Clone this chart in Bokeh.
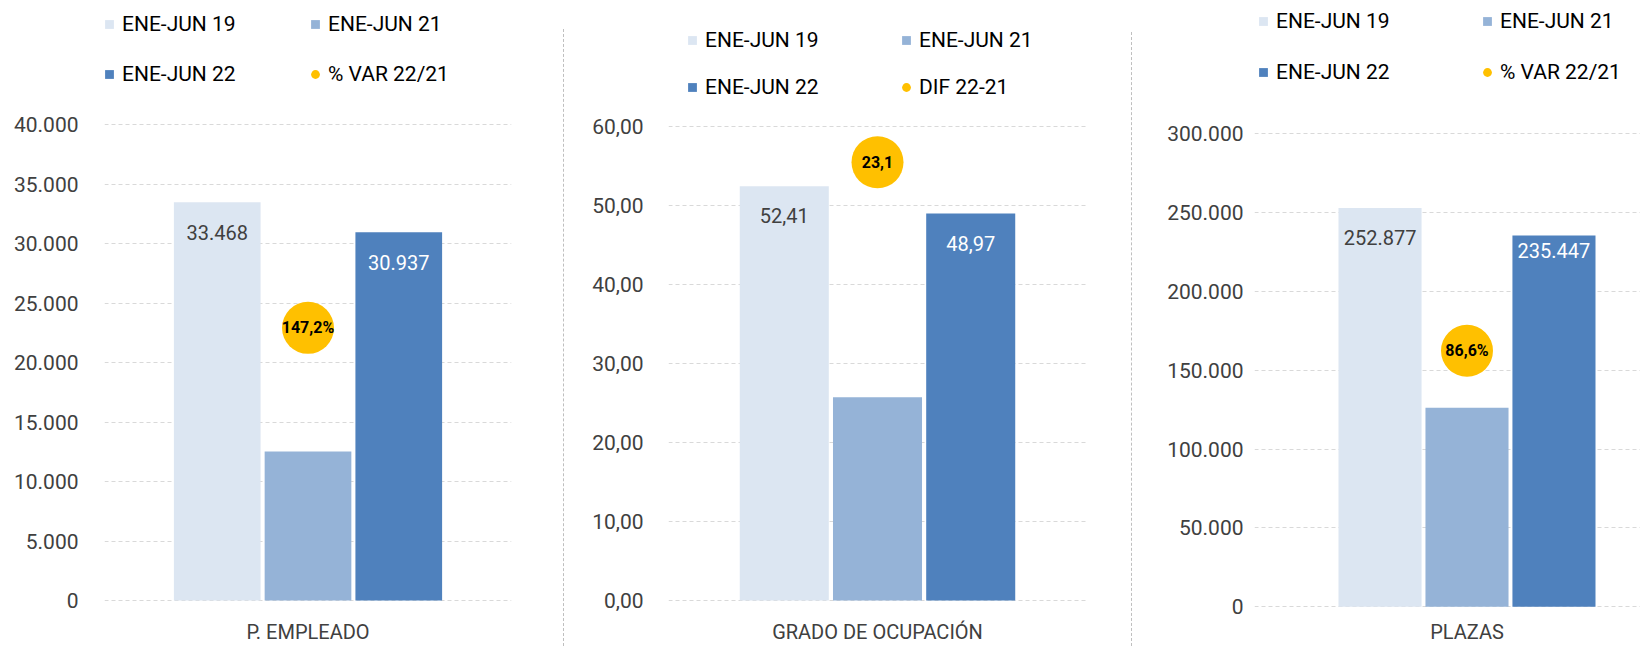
from bokeh.plotting import figure
from bokeh.models import Range1d, FixedTicker, Legend, LegendItem, ColumnDataSource, Div
from bokeh.layouts import row
from bokeh.transform import dodge
from bokeh.core.properties import value
from bokeh.embed import file_html
from bokeh.resources import INLINE

# ---------------- data ----------------
series = ["ENE-JUN 19", "ENE-JUN 21", "ENE-JUN 22"]
series_colors = ["#DCE6F2", "#95B3D7", "#4F81BD"]
labelled_series = [0, 2]

cat_empleado = "P. EMPLEADO"
val_empleado = [33468, 12515, 30937]
var_empleado = 147.2
var_empleado_name = "% VAR 22/21"
ticks_empleado = [0, 5000, 10000, 15000, 20000, 25000, 30000, 35000, 40000]
tick_labels_empleado = ["0", "5.000", "10.000", "15.000", "20.000", "25.000", "30.000", "35.000", "40.000"]

cat_ocupacion = "GRADO DE OCUPACIÓN"
val_ocupacion = [52.41, 25.7, 48.97]
var_ocupacion = 23.1
var_ocupacion_name = "DIF 22-21"
ticks_ocupacion = [0, 10, 20, 30, 40, 50, 60]
tick_labels_ocupacion = ["0,00", "10,00", "20,00", "30,00", "40,00", "50,00", "60,00"]

cat_plazas = "PLAZAS"
val_plazas = [252877, 126180, 235447]
var_plazas = 86.6
var_plazas_name = "% VAR 22/21"
ticks_plazas = [0, 50000, 100000, 150000, 200000, 250000, 300000]
tick_labels_plazas = ["0", "50.000", "100.000", "150.000", "200.000", "250.000", "300.000"]


def es_num(v, decimals):
    s = f"{v:,.{decimals}f}"
    return s.replace(",", "X").replace(".", ",").replace("X", ".")


# ---------------- style / layout ----------------
FONT = "Roboto"
GOLD = "#FFC000"
BAR_W = 0.213
OFFSETS = [-0.223, 0.0, 0.223]
H = 646
TOP = 0
FB = 607  # common frame bottom (frames are aligned in a row)

panels = [
    dict(left=0, width=563, frame_left=104, frame_right=511, y0=600, yt=124,
         x0=-0.5, x1=0.5, sec_max=257, bubble=52, lab_off=[30, 30], ystand=26, xstand=12,
         leg_text=122, leg_top=12, leg_pitch=50, leg_col=206, dec=0, pct=True),
    dict(left=564, width=567, frame_left=668, frame_right=1086, y0=600, yt=125.7,
         x0=-0.5, x1=0.5, sec_max=25, bubble=52, lab_off=[29.5, 30], ystand=25, xstand=12,
         leg_text=705, leg_top=28, leg_pitch=47, leg_col=213.6, dec=2, pct=False),
    dict(left=1132, width=508, frame_left=1254, frame_right=1640, y0=606.3, yt=133.3,
         x0=-0.5449, x1=0.4449, sec_max=160, bubble=52, lab_off=[29.5, 15], ystand=11, xstand=12,
         leg_text=1276, leg_top=9, leg_pitch=50.7, leg_col=223.3, dec=0, pct=True),
]


def make_panel(cfg, category, values, var_value, var_name, ticks, tick_labels):
    ppu = (cfg["y0"] - cfg["yt"]) / ticks[-1]
    y_start = -(FB - cfg["y0"]) / ppu
    y_end = (cfg["y0"] - TOP) / ppu
    sppu = (cfg["y0"] - cfg["yt"]) / cfg["sec_max"]
    p = figure(width=cfg["width"], height=H,
               x_range=Range1d(cfg["x0"], cfg["x1"]), y_range=Range1d(y_start, y_end),
               output_backend="svg", toolbar_location=None, title=None,
               min_border_left=int(round(cfg["frame_left"] - cfg["left"])),
               min_border_right=int(round(cfg["left"] + cfg["width"] - cfg["frame_right"])),
               min_border_top=0, min_border_bottom=int(round(TOP + H - FB)))
    p.extra_y_ranges = {"var": Range1d(-(FB - cfg["y0"]) / sppu, (cfg["y0"] - TOP) / sppu)}
    p.outline_line_color = None
    p.background_fill_color = "white"
    p.border_fill_color = "white"
    p.xgrid.visible = False
    p.ygrid.grid_line_color = "#D9D9D9"
    p.ygrid.grid_line_dash = "4 3"
    p.ygrid.grid_line_width = 1

    for ax in (p.xaxis, p.yaxis):
        ax.axis_line_color = None
        ax.major_tick_line_color = None
        ax.minor_tick_line_color = None
        ax.major_tick_in = 0
        ax.major_tick_out = 0
        ax.minor_tick_in = 0
        ax.minor_tick_out = 0
        ax.major_label_text_font = FONT
        ax.major_label_text_color = "#404040"
        ax.major_label_text_font_size = "21px"
    p.yaxis.ticker = FixedTicker(ticks=ticks)
    p.yaxis.major_label_overrides = dict(zip(ticks, tick_labels))
    p.yaxis.major_label_standoff = cfg["ystand"]
    p.xaxis.ticker = FixedTicker(ticks=[0])
    p.xaxis.major_label_overrides = {0: category}
    p.xaxis.major_label_standoff = cfg["xstand"]
    p.xaxis.major_label_text_font_size = "20px"

    # bars
    for i, name in enumerate(series):
        src = ColumnDataSource(dict(pos=[0], val=[values[i]]))
        p.vbar(x=dodge("pos", OFFSETS[i], range=p.x_range), top="val", bottom=0, width=BAR_W,
               fill_color=series_colors[i], line_color=None, source=src)

    # value labels
    for k, i in enumerate(labelled_series):
        src = ColumnDataSource(dict(pos=[0], val=[values[i]], txt=[es_num(values[i], cfg["dec"])]))
        p.text(x=dodge("pos", OFFSETS[i], range=p.x_range), y="val", text="txt", source=src,
               text_align="center", text_baseline="middle", y_offset=cfg["lab_off"][k],
               text_font=value(FONT), text_font_size="20px",
               text_color="#404040" if i == 0 else "white")

    # variation bubble
    vtxt = es_num(var_value, 1) + ("%" if cfg["pct"] else "")
    bsrc = ColumnDataSource(dict(pos=[0], v=[var_value], txt=[vtxt]))
    p.scatter(x="pos", y="v", source=bsrc, marker="circle", size=cfg["bubble"],
              fill_color=GOLD, line_color=None, y_range_name="var")
    p.text(x="pos", y="v", text="txt", source=bsrc, y_range_name="var",
           text_align="center", text_baseline="middle", text_font=value(FONT),
           text_font_size="16px", text_font_style="bold", text_color="black")

    # legend proxies (no visible points in the plot)
    nan = float("nan")
    proxies = []
    for c in series_colors:
        proxies.append(p.scatter(x="x", y="y", source=ColumnDataSource(dict(x=[nan], y=[nan])),
                                 marker="square", fill_color=c, line_color=None))
    proxies.append(p.scatter(x="x", y="y", source=ColumnDataSource(dict(x=[nan], y=[nan])),
                             marker="circle", fill_color=GOLD, line_color=None))
    labels = series + [var_name]
    items = [LegendItem(label=labels[i], renderers=[proxies[i]]) for i in range(4)]
    gw, gh = 22, 24
    standoff = 2
    spacing = cfg["leg_pitch"] - gh
    lw = cfg["leg_col"] - gw - standoff - spacing
    L = 2 * gh + spacing
    vx = (cfg["leg_text"] - gw - standoff) - cfg["frame_left"]
    vy = FB - (cfg["leg_top"] + L)
    leg = Legend(items=items, location=(vx, vy), orientation="horizontal", ncols=2,
                 glyph_width=gw, glyph_height=gh, label_height=gh, label_width=int(round(lw)),
                 label_standoff=standoff, spacing=int(round(spacing)), padding=0, margin=0,
                 border_line_color=None, background_fill_alpha=0,
                 label_text_font=FONT, label_text_font_size="21px", label_text_color="black")
    p.add_layout(leg)
    return p


p1 = make_panel(panels[0], cat_empleado, val_empleado, var_empleado, var_empleado_name,
                ticks_empleado, tick_labels_empleado)
p2 = make_panel(panels[1], cat_ocupacion, val_ocupacion, var_ocupacion, var_ocupacion_name,
                ticks_ocupacion, tick_labels_ocupacion)
p3 = make_panel(panels[2], cat_plazas, val_plazas, var_plazas, var_plazas_name,
                ticks_plazas, tick_labels_plazas)

sep_style = {"border-left": "1px dashed #BFBFBF", "box-sizing": "border-box"}
d1 = Div(text="", width=1, height=617, margin=(29, 0, 0, 0), styles=sep_style)
d2 = Div(text="", width=1, height=614, margin=(32, 0, 0, 0), styles=sep_style)

layout = row(p1, d1, p2, d2, p3)
open("out.html", "w").write(file_html(layout, INLINE))
